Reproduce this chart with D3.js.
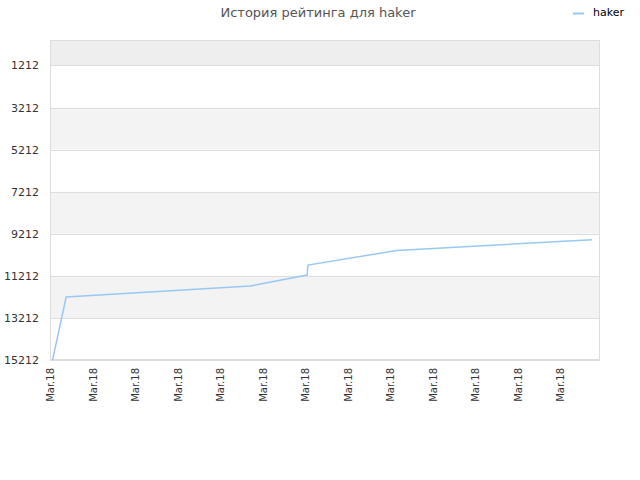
<!DOCTYPE html>
<html><head><meta charset="utf-8">
<script src="https://cdn.jsdelivr.net/npm/d3@7"></script>
<style>body{margin:0;background:#fff}svg{font-family:"DejaVu Sans",sans-serif}</style>
</head><body>
<svg id="c" width="640" height="480"></svg>
<script>
const title = "История рейтинга для haker";
const seriesName = "haker";
const tickDays = [0,1,2,3,4,5,6,7,8,9,10,11,12];
const tickLabels = ["Mar.18","Mar.18","Mar.18","Mar.18","Mar.18","Mar.18","Mar.18","Mar.18","Mar.18","Mar.18","Mar.18","Mar.18","Mar.18"];
const yTicks = [1212,3212,5212,7212,9212,11212,13212,15212];
const days = [0.06, 0.38, 4.71, 6.05, 6.07, 8.16, 12.75];
const ratings = [15212, 12218, 11695, 11172, 10697, 10007, 9494];

const svg = d3.select("#c");
const L=50,R=600,T=40,B=360;
const x = d3.scaleLinear().domain([0,12.94]).range([L,R]);
const y = d3.scaleLinear().domain([0,15212]).range([T,B]);

// bands
const edges = [0].concat(yTicks);
for(let i=0;i<edges.length-1;i++){
  const fill = i===0 ? "#eeeeee" : (i%2===0 ? "#f3f3f3" : "#ffffff");
  svg.append("rect").attr("x",L).attr("y",y(edges[i])).attr("width",R-L)
     .attr("height",y(edges[i+1])-y(edges[i])).attr("fill",fill);
}
// grid lines
yTicks.forEach(v=>{
  svg.append("line").attr("x1",L).attr("x2",R).attr("y1",Math.round(y(v))+0.5).attr("y2",Math.round(y(v))+0.5)
    .attr("stroke","#dddddd");
});
svg.append("rect").attr("x",L+0.5).attr("y",T+0.5).attr("width",R-L-1).attr("height",B-T-1)
  .attr("fill","none").attr("stroke","#dddddd");

// y labels
svg.append("g").selectAll("text").data(yTicks).join("text")
  .attr("x",L-11).attr("y",d=>y(d)+4).attr("text-anchor","end")
  .attr("font-size",11).attr("fill","#333").text(d=>d);

// x labels
svg.append("g").selectAll("text").data(tickDays).join("text")
  .attr("transform",d=>`translate(${x(d)+4},${B+8}) rotate(-90)`)
  .attr("text-anchor","end").attr("font-size",10).attr("fill","#333")
  .text((d,i)=>tickLabels[i]);

// line
const pts = days.map((d,i)=>[d,ratings[i]]);
svg.append("path").datum(pts)
  .attr("d",d3.line().x(d=>x(d[0])).y(d=>y(d[1])))
  .attr("fill","none").attr("stroke","#99c8f5").attr("stroke-width",1.5);

// title
svg.append("text").attr("x",318).attr("y",17).attr("text-anchor","middle")
  .attr("font-size",13).attr("fill","#555").text(title);

// legend
svg.append("line").attr("x1",573).attr("x2",584).attr("y1",13.5).attr("y2",13.5)
  .attr("stroke","#99c8f5").attr("stroke-width",2);
svg.append("text").attr("x",593).attr("y",16).attr("font-size",11).attr("fill","#000").text(seriesName);
</script>
</body></html>
